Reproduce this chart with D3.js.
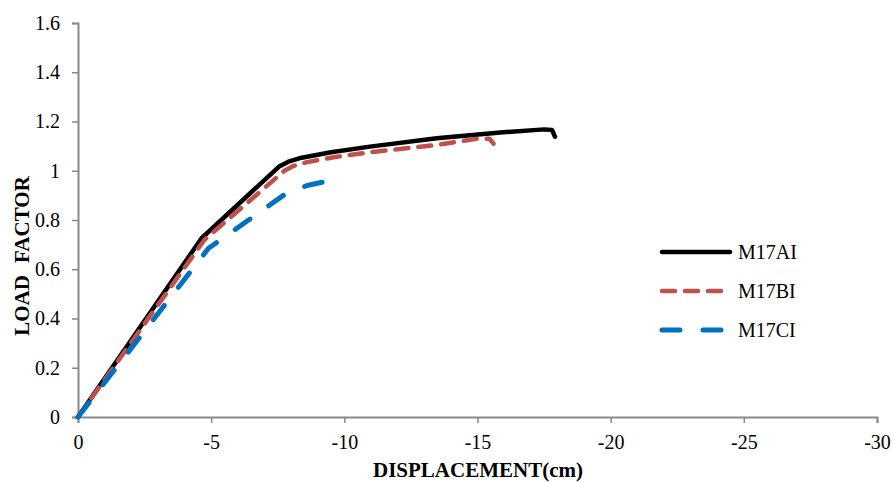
<!DOCTYPE html>
<html>
<head>
<meta charset="utf-8">
<script src="https://cdn.jsdelivr.net/npm/d3@7"></script>
<style>
  body { margin: 0; background: #fff; }
  svg { font-family: "Liberation Serif", "Times New Roman", serif; }
</style>
</head>
<body>
<div id="chart"></div>
<script>
(function(d3) {
  'use strict';

  // displacement (cm) / load factor
  var seriesNames = ['M17AI', 'M17BI', 'M17CI'];
  var dispA = [0, -4.64, -7.55, -7.9, -8.4, -9.5, -10.96, -13.47, -15.96, -17.5, -17.8, -17.91];
  var loadA = [0, 0.726, 1.017, 1.037, 1.053, 1.075, 1.098, 1.132, 1.156, 1.168, 1.166, 1.138];
  var dispB = [0, -4.75, -7.75, -8.1, -8.6, -9.6, -10.96, -13.47, -15.0, -15.45, -15.6];
  var loadB = [0, 0.72, 1.0, 1.02, 1.035, 1.055, 1.075, 1.105, 1.13, 1.13, 1.11];
  var dispC = [0, -4.9, -7.71, -8.6, -9.46];
  var loadC = [0, 0.685, 0.90, 0.94, 0.96];
  var xTicks = [0, -5, -10, -15, -20, -25, -30];
  var yTicks = [0, 0.2, 0.4, 0.6, 0.8, 1, 1.2, 1.4, 1.6];

  var width = 893;
  var height = 483;
  var margin = { left: 78, right: 16, top: 23, bottom: 66 };

  var colors = ['#000000', '#C0504D', '#0070C0'];
  var dashes = [null, '13,10', '18,23'];
  var widths = [4.5, 4.5, 5];

  function zip(xs, ys) {
    return xs.map(function(x, i) { return { x: x, y: ys[i] }; });
  }
  var series = [zip(dispA, loadA), zip(dispB, loadB), zip(dispC, loadC)];

  var svg = d3.select('#chart')
    .append('svg')
    .attr('width', width)
    .attr('height', height);

  var x = d3.scaleLinear()
    .domain([0, -30])
    .range([margin.left, width - margin.right]);
  var y = d3.scaleLinear()
    .domain([0, 1.6])
    .range([height - margin.bottom, margin.top]);

  var xAxis = svg.append('g')
    .attr('transform', 'translate(0,' + y(0) + ')')
    .call(d3.axisBottom(x).tickValues(xTicks).tickSize(6).tickPadding(12)
      .tickFormat(function(d) { return d === 0 ? '0' : '-' + Math.abs(d); }));
  var yAxis = svg.append('g')
    .attr('transform', 'translate(' + x(0) + ',0)')
    .call(d3.axisLeft(y).tickValues(yTicks).tickSize(6).tickPadding(12)
      .tickFormat(function(d) { return d3.format('')(+d.toFixed(1)); }));

  [xAxis, yAxis].forEach(function(ax) {
    ax.select('.domain').attr('stroke', '#898989').attr('stroke-width', 2);
    ax.selectAll('.tick line').attr('stroke', '#898989').attr('stroke-width', 1.5);
    ax.selectAll('.tick text')
      .attr('fill', '#000')
      .style('font-family', '"Liberation Serif", serif')
      .style('font-size', '20px');
  });

  var line = d3.line()
    .x(function(d) { return x(d.x); })
    .y(function(d) { return y(d.y); });

  svg.selectAll('.series')
    .data(series)
    .enter()
    .append('path')
    .attr('class', 'series')
    .attr('d', line)
    .attr('fill', 'none')
    .attr('stroke', function(d, i) { return colors[i]; })
    .attr('stroke-width', function(d, i) { return widths[i]; })
    .attr('stroke-dasharray', function(d, i) { return dashes[i]; })
    .attr('stroke-linecap', 'round')
    .attr('stroke-linejoin', 'round');

  // axis titles
  svg.append('text')
    .attr('x', 478)
    .attr('y', 477)
    .attr('text-anchor', 'middle')
    .style('font-size', '21px')
    .style('font-weight', 'bold')
    .text('DISPLACEMENT(cm)');

  svg.append('text')
    .attr('transform', 'translate(29,256) rotate(-90)')
    .attr('text-anchor', 'middle')
    .style('font-size', '21px')
    .style('font-weight', 'bold')
    .style('word-spacing', '7px')
    .text('LOAD FACTOR');

  // legend
  var legend = svg.selectAll('.legend')
    .data(seriesNames)
    .enter()
    .append('g')
    .attr('class', 'legend')
    .attr('transform', function(d, i) {
      return 'translate(662,' + (252 + i * 39) + ')';
    });

  legend.append('line')
    .attr('x1', 0)
    .attr('x2', 68)
    .attr('stroke', function(d, i) { return colors[i]; })
    .attr('stroke-width', function(d, i) { return widths[i]; })
    .attr('stroke-dasharray', function(d, i) { return dashes[i]; })
    .attr('stroke-linecap', 'round');

  legend.append('text')
    .attr('x', 76)
    .attr('y', 7)
    .style('font-size', '20px')
    .text(function(d) { return d; });

})(window.d3);
</script>
</body>
</html>
